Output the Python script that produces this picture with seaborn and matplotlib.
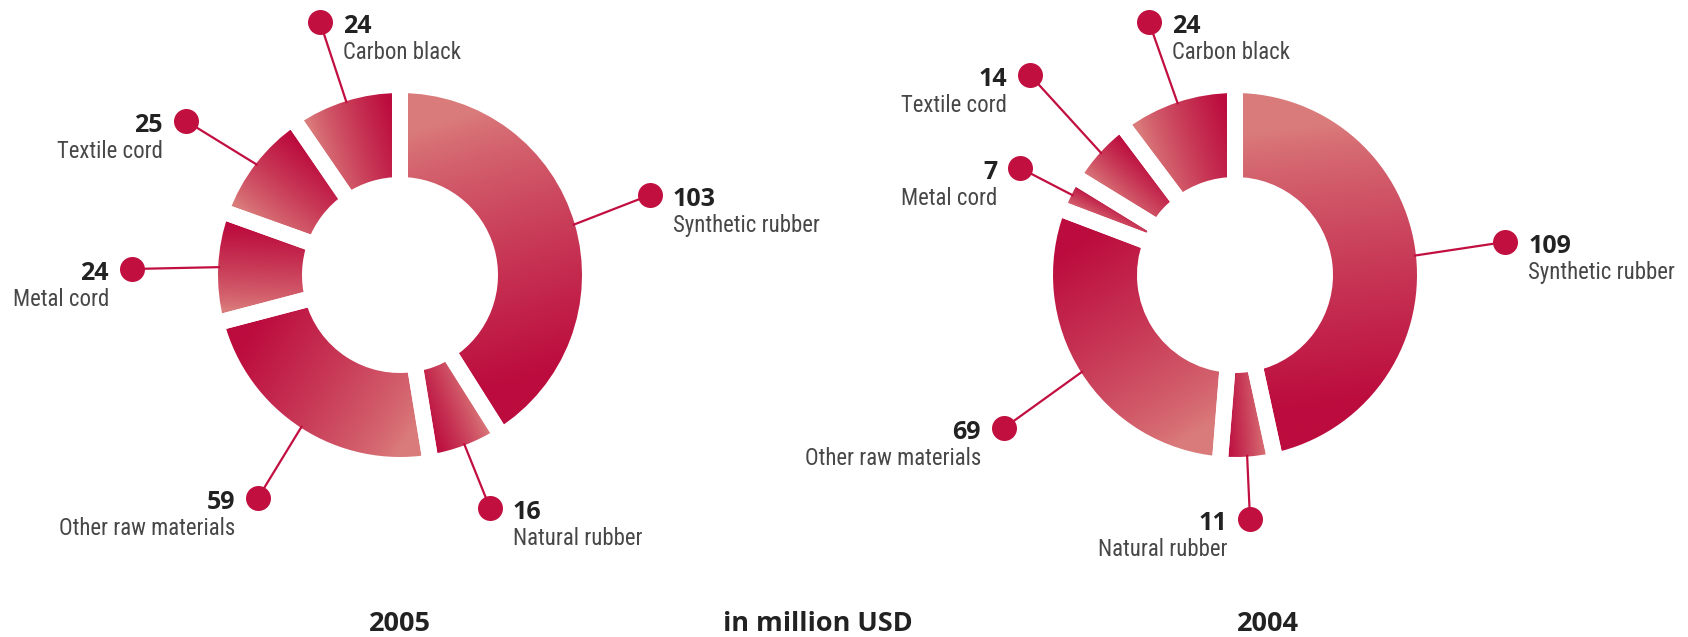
import numpy as np
import matplotlib
matplotlib.use("Agg")
import matplotlib.pyplot as plt
from matplotlib import font_manager as fm
import seaborn as sns

# Raw material costs, in million USD (clockwise from 12 o'clock)
categories = ["Synthetic rubber", "Natural rubber", "Other raw materials",
              "Metal cord", "Textile cord", "Carbon black"]
values_2005 = [103, 16, 59, 24, 25, 24]
values_2004 = [109, 11, 69, 7, 14, 24]
years = ["2005", "2004"]
unit_label = "in million USD"

W, H = 1688, 637
sns.set_theme(style="white")
plt.rcParams["font.family"] = ["Open Sans", "DejaVu Sans"]

LIGHT = "#da7b7b"
DARK = "#bc0c3e"
ACCENT = "#c10f40"
NUM_COLOR = "#222222"
LABEL_COLOR = "#474747"
cmap = sns.blend_palette([LIGHT, DARK], as_cmap=True)


def narrow_label_font():
    """Pick a condensed regular face if one is installed, else Roboto."""
    entries = fm.fontManager.ttflist
    wanted = ["Liberation Sans Narrow", "Roboto Condensed", "Open Sans Condensed",
              "Noto Sans Condensed", "Noto Sans", "DejaVu Sans"]
    for fam in wanted:
        for f in entries:
            condensed = ("Narrow" in f.name or "Condensed" in f.name
                         or str(f.stretch) in ("condensed", "semi-condensed", "500", "600"))
            if (f.name == fam and condensed and f.style == "normal"
                    and f.weight in (400, "normal", "regular", "book")):
                return fm.FontProperties(fname=f.fname)
    return fm.FontProperties(family="Roboto")


label_prop = narrow_label_font()

R_OUT, R_IN, GAP = 182, 98, 16  # pixels

# layout: donut centre, year label x, and per-category callout (dot x, dot y, side)
layouts = [
    dict(values=values_2005, center=(400, 275), year_x=400,
         callouts=[(650, 195, "r"), (490, 508, "r"), (258, 498, "l"),
                   (132, 269, "l"), (186, 121, "l"), (320, 22, "r")]),
    dict(values=values_2004, center=(1235, 275), year_x=1268,
         callouts=[(1505, 242, "r"), (1250, 519, "l"), (1004, 428, "l"),
                   (1020, 168, "l"), (1030, 75, "l"), (1149, 22, "r")]),
]

fig = plt.figure(figsize=(W / 100, H / 100), dpi=100)
ax = fig.add_axes([0, 0, 1, 1])
ax.set_xlim(0, W)
ax.set_ylim(0, H)

# size the category labels so that "Synthetic rubber" spans about 146 px
probe = ax.text(0, 0, "Synthetic rubber", fontproperties=label_prop, fontsize=18)
fig.canvas.draw()
pw = probe.get_window_extent().width
probe.remove()
label_size = float(np.clip(18 * 146 / pw, 14.5, 19))


def up(y):
    """Convert a top-down pixel row to the axes' bottom-up coordinate."""
    return H - y


for lay, year in zip(layouts, years):
    cx, cy = lay["center"][0], up(lay["center"][1])
    wedges, _ = ax.pie(
        lay["values"], startangle=90, counterclock=False,
        radius=R_OUT + GAP / 2, center=(cx, cy),
        wedgeprops=dict(width=R_OUT - R_IN + GAP, facecolor="none",
                        edgecolor="white", linewidth=GAP * 0.72),
    )
    rm = (R_OUT + R_IN) / 2
    x0, x1 = cx - R_OUT - GAP, cx + R_OUT + GAP
    y0, y1 = cy - R_OUT - GAP, cy + R_OUT + GAP
    gx, gy = np.meshgrid(np.arange(x0, x1 + 1), np.arange(y0, y1 + 1))
    for w, val, cat, (dx, dy, side) in zip(wedges, lay["values"], categories,
                                          lay["callouts"]):
        w.set_zorder(2)
        t1, t2 = np.radians(w.theta1), np.radians(w.theta2)
        # linear gradient: light at the clockwise start edge, dark at the end edge
        a = np.array([cx + rm * np.cos(t2), cy + rm * np.sin(t2)])
        b = np.array([cx + rm * np.cos(t1), cy + rm * np.sin(t1)])
        d = b - a
        tt = ((gx - a[0]) * d[0] + (gy - a[1]) * d[1]) / (d @ d)
        im = ax.imshow(np.clip(tt, 0, 1) ** 0.8, cmap=cmap, vmin=0, vmax=1,
                       extent=(x0, x1, y0, y1), origin="lower",
                       interpolation="bilinear", zorder=1)
        im.set_clip_path(w)

        # leader line from the outer rim (mid-angle) to the callout dot
        mid = (t1 + t2) / 2
        ex, ey = cx + (R_OUT - 2) * np.cos(mid), cy + (R_OUT - 2) * np.sin(mid)
        ax.plot([ex, dx], [ey, up(dy)], color=ACCENT, lw=1.6, zorder=3,
                solid_capstyle="butt")
        ax.plot(dx, up(dy), "o", ms=18, color=ACCENT, mec="none", zorder=4)

        ha = "left" if side == "r" else "right"
        tx = dx + 23 if side == "r" else dx - 23
        ax.text(tx, up(dy + 11), f"{val}", ha=ha, va="baseline",
                fontsize=18, fontweight="bold", color=NUM_COLOR)
        ax.text(tx, up(dy + 37), cat, ha=ha, va="baseline",
                fontproperties=label_prop, fontsize=label_size,
                color=LABEL_COLOR)

    ax.text(lay["year_x"], up(631), year, ha="center", va="baseline",
            fontsize=19.5, fontweight="bold", color=NUM_COLOR)

ax.text(818, up(631), unit_label, ha="center", va="baseline",
        fontsize=19.5, fontweight="bold", color=NUM_COLOR)

ax.set_xlim(0, W)
ax.set_ylim(0, H)
ax.set_aspect("equal")
ax.set_axis_off()
fig.savefig("out.png", dpi=100, facecolor="white")
